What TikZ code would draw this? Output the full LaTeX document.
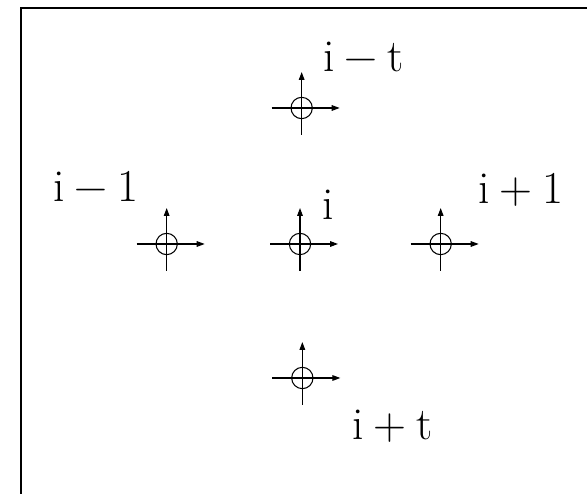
\documentclass[tikz,border=0pt]{standalone}
\usetikzlibrary{calc,arrows.meta,positioning}

\newcommand{\gap}{\hspace{0.22em}}
\tikzset{
  lbl/.style={inner sep=0pt,anchor=base west,font=\fontsize{39}{44}\selectfont},
  axis/.style={line width=0.9pt},
  axarrow/.style={line width=0.9pt,-{Triangle[length=0.24cm,width=0.17cm]}}
}

\begin{document}
\begin{tikzpicture}[scale=1]
\useasboundingbox (0,0) rectangle (17.61,14.82);
\fill[white] (0,0) rectangle (17.61,14.82);
% frame (only top and left edges show)
\draw[line width=1.7pt] (0.63,0)--(0.63,14.58)--(17.61,14.58);
% grid points
\coordinate (imt) at (9.05,11.58);
\coordinate (im1) at (5.0,7.5);
\coordinate (ic) at (9.0,7.5);
\coordinate (ip1) at (13.22,7.5);
\coordinate (ipt) at (9.07,3.48);
\foreach \c in {imt,im1,ic,ip1,ipt}{
  \draw[axis] (\c) circle (0.32);
  \draw[axis] ($(\c)+(0,-0.81)$)--(\c);
  \draw[axis] ($(\c)+(-0.9,0)$)--(\c);
  \draw[axarrow] (\c)--++(1.14,0);
  \draw[axarrow] (\c)--++(0,1.08);
}
% labels
\node[lbl] (limt) at (9.69,12.66) {i\gap−\gap t};
\node[lbl] (lim1) at (1.59,8.76) {i\gap−\gap 1};
\node[lbl] (lic) at (9.66,8.22) {i};
\node[lbl] (lip1) at (14.34,8.7) {i\gap+\gap 1};
\node[lbl] (lipt) at (10.56,1.62) {i\gap+\gap t};
\end{tikzpicture}
\end{document}
